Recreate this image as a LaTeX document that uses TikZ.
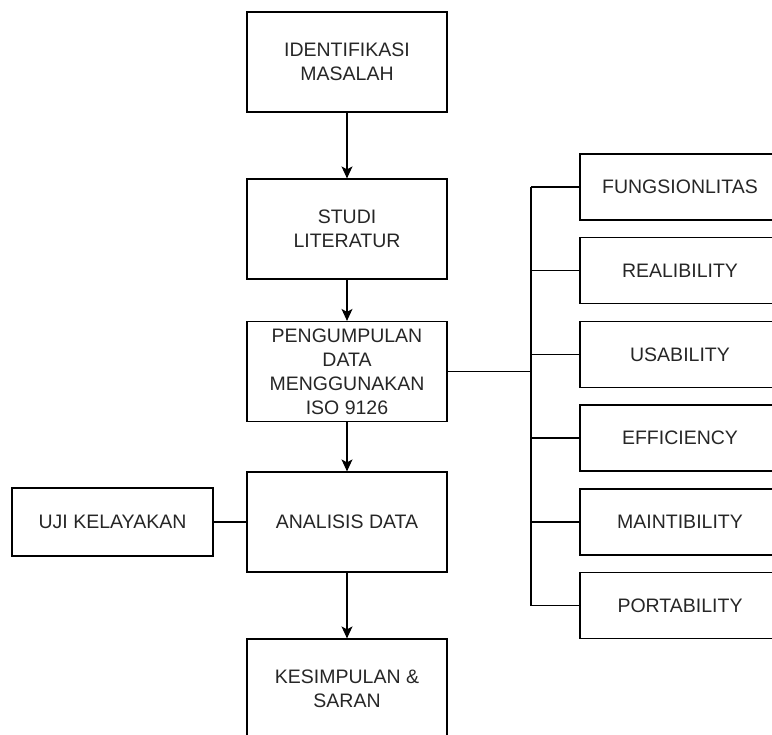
\documentclass[tikz,border=0pt]{standalone}
\usepackage{fontspec}
\setmainfont{Liberation Sans}
\usetikzlibrary{arrows.meta}
\begin{document}
\begin{tikzpicture}[x=1pt,y=1pt,
  box/.style={draw, line width=1.2pt, inner sep=0pt, align=center,
    font=\fontsize{19.5}{24}\selectfont, text=black!85},
  mainbox/.style={box, minimum width=200pt, minimum height=100pt},
  sidebox/.style={box, minimum width=200pt, minimum height=66pt},
  conn/.style={line width=1.2pt},
  arr/.style={conn, -{Stealth[length=12pt, width=11pt, inset=3pt]}}]
\useasboundingbox (0,0) rectangle (772,-735);
\clip (0,0) rectangle (772,-735);
\node[mainbox] (idm) at (347,-62) {IDENTIFIKASI\\MASALAH};
\node[mainbox] (studi) at (347,-229) {STUDI\\LITERATUR};
\node[mainbox] (peng) at (347,-371.5) {PENGUMPULAN\\DATA\\MENGGUNAKAN\\ISO 9126};
\node[mainbox] (anal) at (347,-522) {ANALISIS DATA};
\node[mainbox] (kes) at (347,-689) {KESIMPULAN \&\\SARAN};
\node[box, minimum width=201pt, minimum height=68pt] (uji) at (112.5,-522) {UJI KELAYAKAN};
\node[sidebox] (r1) at (680,-187) {FUNGSIONLITAS};
\node[sidebox] (r2) at (680,-270.5) {REALIBILITY};
\node[sidebox] (r3) at (680,-354.5) {USABILITY};
\node[sidebox] (r4) at (680,-438) {EFFICIENCY};
\node[sidebox] (r5) at (680,-522) {MAINTIBILITY};
\node[sidebox] (r6) at (680,-605.5) {PORTABILITY};
\coordinate (bus) at (531,0);
\draw[arr] (idm) -- (studi);
\draw[arr] (studi) -- (peng);
\draw[arr] (peng) -- (anal);
\draw[arr] (anal) -- (kes);
\draw[conn] (uji) -- (anal);
\draw[conn] (peng.east) -- (peng.east -| bus);
\draw[conn] (r1.west -| bus) -- (r6.west -| bus);
\foreach \r in {r1,r2,r3,r4,r5,r6}{
  \draw[conn] (\r.west -| bus) -- (\r.west);
}
\end{tikzpicture}
\end{document}
